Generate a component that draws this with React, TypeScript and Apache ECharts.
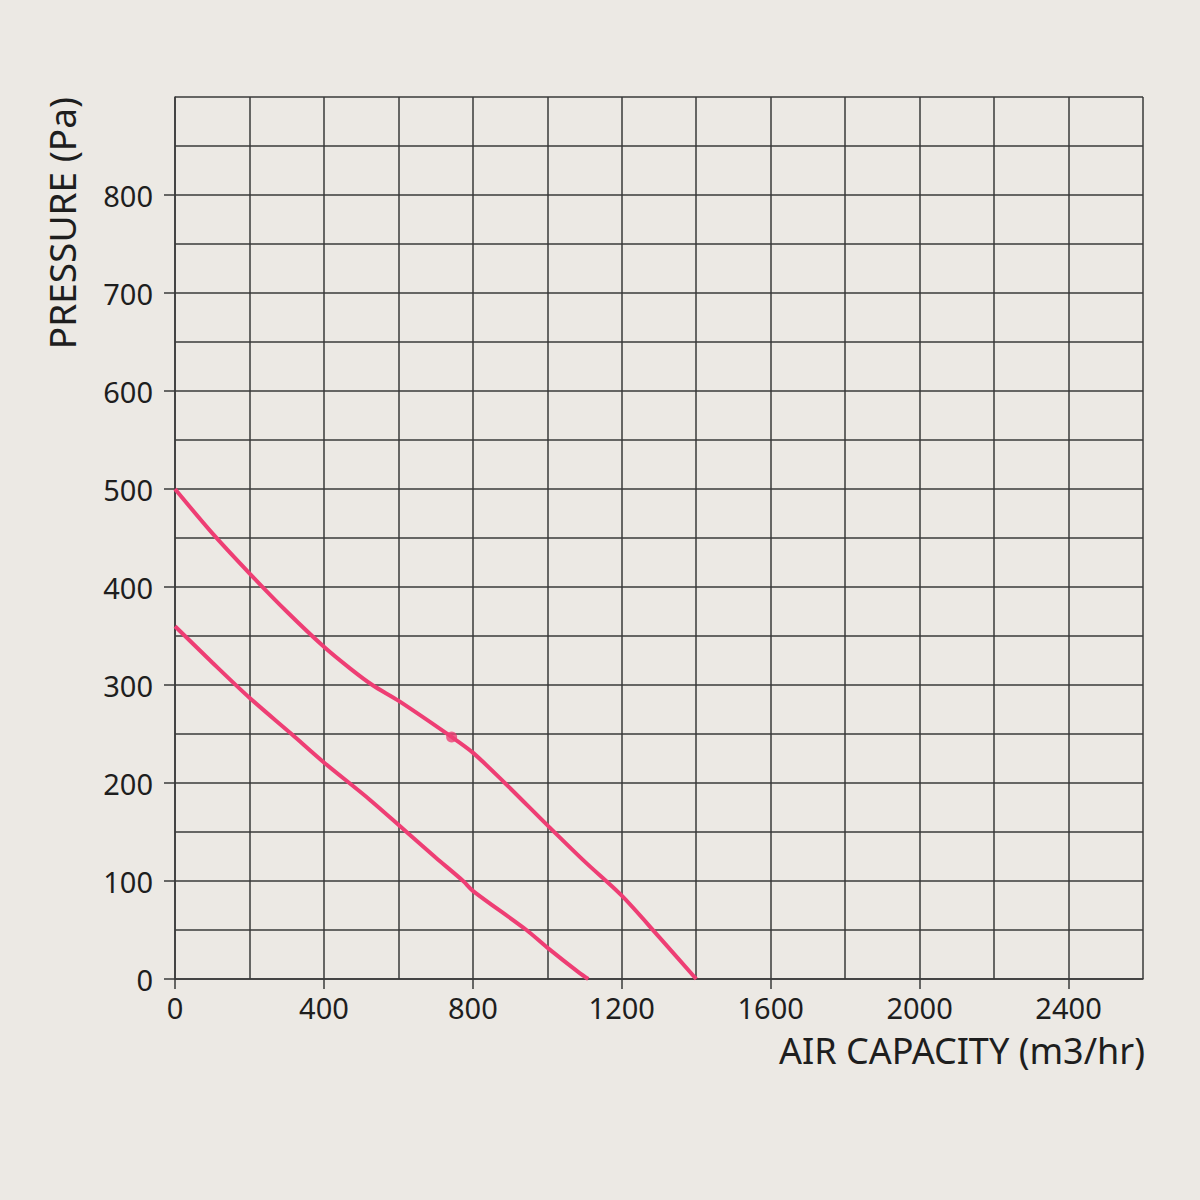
import React, { useEffect, useRef } from "react";
import * as echarts from "echarts";

const xTickLabels = [0, 400, 800, 1200, 1600, 2000, 2400];
const yTickLabels = [0, 100, 200, 300, 400, 500, 600, 700, 800];

const upperCurve: number[][] = [
  [0, 500], [100, 455], [200, 414], [300, 375], [400, 339], [470, 317],
  [530, 300], [600, 284], [743, 247], [800, 231], [886, 200], [1000, 157],
  [1100, 120], [1200, 85], [1300, 43], [1400, 0],
];

const lowerCurve: number[][] = [
  [0, 360], [100, 323], [200, 287], [313, 250], [400, 221], [523, 183],
  [622, 150], [700, 124], [774, 100], [800, 90], [944, 50], [1000, 32],
  [1087, 6], [1110, 0],
];

const operatingPoint: number[][] = [[743, 247]];

const BG = "#ECE9E4";
const GRID = "#3a3a3a";
const PINK = "#EE3E74";
const TEXT = "#1e1e1e";
const FONT = "Noto Sans";

const fmt = (v: number) => String(v);

export default function App() {
  const ref = useRef<HTMLDivElement>(null);

  useEffect(() => {
    document.body.style.margin = "0";
    document.body.style.background = BG;
    const chart = echarts.init(ref.current!, null, { renderer: "svg" });
    const gridLine = { show: true, lineStyle: { color: GRID, width: 1.5 } };
    chart.setOption({
      animation: false,
      backgroundColor: BG,
      grid: { left: 175, top: 97, right: 57, bottom: 221, containLabel: false },
      xAxis: [
        {
          type: "value",
          min: 0,
          max: 2600,
          interval: 400,
          name: "AIR CAPACITY (m3/hr)",
          nameLocation: "end",
          nameGap: 2,
          nameTextStyle: {
            fontFamily: FONT,
            fontSize: 36,
            color: TEXT,
            align: "right",
            verticalAlign: "top",
            padding: [53, 0, 0, 0],
          },
          axisLine: { show: true, lineStyle: { color: GRID, width: 1.5 } },
          axisTick: {
            show: true,
            length: 10,
            customValues: xTickLabels,
            lineStyle: { color: GRID, width: 1.5 },
          },
          axisLabel: {
            customValues: xTickLabels,
            formatter: fmt,
            margin: 14,
            fontFamily: FONT,
            fontSize: 29,
            color: TEXT,
          },
          splitLine: { show: false },
        },
        {
          type: "value",
          min: 0,
          max: 2600,
          interval: 200,
          position: "bottom",
          axisLine: { show: false },
          axisTick: { show: false },
          axisLabel: { show: false },
          splitLine: gridLine,
        },
      ],
      yAxis: [
        {
          type: "value",
          min: 0,
          max: 900,
          interval: 100,
          name: "PRESSURE (Pa)",
          nameLocation: "end",
          nameGap: 0,
          nameRotate: 90,
          nameTextStyle: {
            fontFamily: FONT,
            fontSize: 37,
            color: TEXT,
            align: "right",
            verticalAlign: "bottom",
            padding: [0, 0, 95, 0],
          },
          axisLine: { show: true, lineStyle: { color: GRID, width: 1.5 } },
          axisTick: {
            show: true,
            length: 11,
            customValues: yTickLabels,
            lineStyle: { color: GRID, width: 1.5 },
          },
          axisLabel: {
            customValues: yTickLabels,
            formatter: fmt,
            margin: 22,
            fontFamily: FONT,
            fontSize: 29,
            color: TEXT,
          },
          splitLine: { show: false },
        },
        {
          type: "value",
          min: 0,
          max: 900,
          interval: 50,
          position: "left",
          axisLine: { show: false },
          axisTick: { show: false },
          axisLabel: { show: false },
          splitLine: gridLine,
        },
      ],
      series: [
        {
          type: "line",
          name: "upper",
          data: upperCurve,
          smooth: 0.3,
          showSymbol: false,
          lineStyle: { color: PINK, width: 4 },
          itemStyle: { color: PINK },
          z: 3,
        },
        {
          type: "line",
          name: "lower",
          data: lowerCurve,
          smooth: 0.3,
          showSymbol: false,
          lineStyle: { color: PINK, width: 4 },
          itemStyle: { color: PINK },
          z: 3,
        },
        {
          type: "scatter",
          name: "point",
          data: operatingPoint,
          symbolSize: 11,
          itemStyle: { color: PINK },
          z: 4,
        },
      ],
    });
    return () => chart.dispose();
  }, []);

  return (
    <div
      ref={ref}
      style={{ position: "fixed", left: 0, top: 0, width: 1200, height: 1200 }}
    />
  );
}
